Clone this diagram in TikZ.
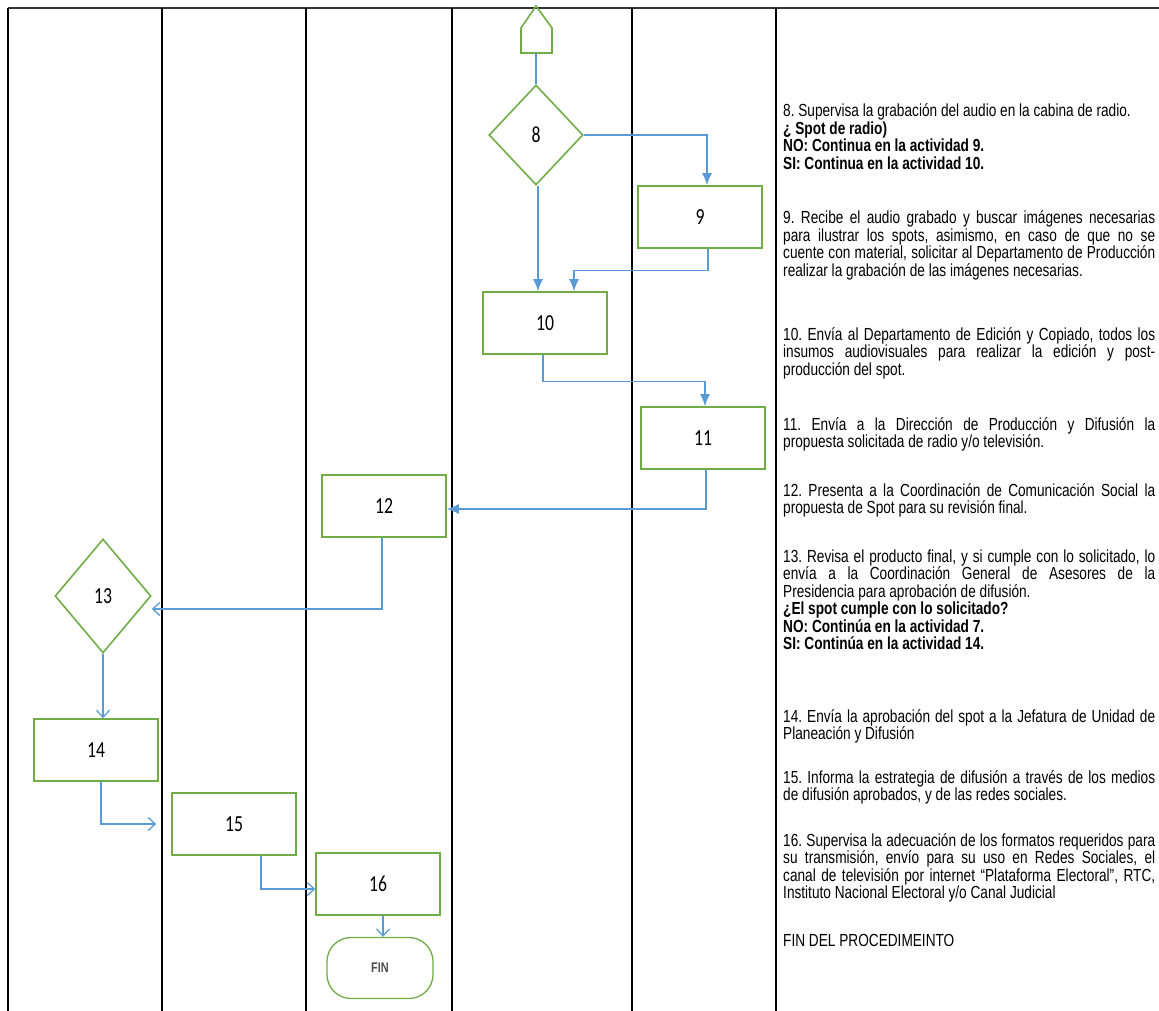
\documentclass[tikz,border=0pt]{standalone}
\usepackage{fontspec}
\setmainfont[FakeStretch=0.78]{Liberation Sans}
\newfontfamily\numfont[FakeStretch=0.77]{Carlito}
\usepackage{xcolor}
\definecolor{boxgreen}{RGB}{112,173,71}
\definecolor{flowblue}{RGB}{91,155,213}
\usetikzlibrary{arrows.meta,shapes.geometric}
\hyphenpenalty=10000
\frenchspacing

\begin{document}
\begin{tikzpicture}[x=1pt,y=-1pt,
    lane/.style={line width=1.6pt},
    actbox/.style={draw=boxgreen, line width=1.6pt, minimum width=124pt, minimum height=62pt, font=\numfont\fontsize{23}{23}\selectfont},
    decbox/.style={draw=boxgreen, line width=1.6pt, diamond, inner sep=0pt, font=\numfont\fontsize{23}{23}\selectfont},
    flow/.style={draw=flowblue, line width=1.3pt},
    fillarrow/.style={flow, -{Latex[length=12pt,width=10pt]}},
    openarrow/.style={flow, -{Straight Barb[length=7pt,width=13pt]}},
    desc/.style={anchor=base west, text width=372pt, align=justify, inner sep=0pt, font=\fontsize{17.5}{17.5}\selectfont}]
            \useasboundingbox (0,0) rectangle (1159,1011);

            % Lanes
            \draw[line width=2.5pt, black!80] (8,8) -- (1159,8);
            \foreach \lx in {8,162,306,452,632,776}
                \draw[lane] (\lx,8) -- (\lx,1011);

            % Off-page connector
            \draw[draw=boxgreen, line width=1.6pt] (521,53) -- (521,28) -- (536,6) -- (552,28) -- (552,53) -- cycle;
            \coordinate (conn) at (536,53);

            % Activities
            \node[decbox, minimum width=94pt, minimum height=100pt] (d8) at (536,135) {8};
            \node[actbox] (n9) at (700,217) {9};
            \node[actbox] (n10) at (545,323) {10};
            \node[actbox] (n11) at (703,438) {11};
            \node[actbox] (n12) at (384,506) {12};
            \node[decbox, minimum width=96pt, minimum height=114pt] (d13) at (103,596) {13};
            \node[actbox] (n14) at (96,750) {14};
            \node[actbox] (n15) at (234,824) {15};
            \node[actbox] (n16) at (378,884) {16};
            \node[draw=boxgreen, line width=1.3pt, rounded corners=24pt, minimum width=106pt, minimum height=61pt, font=\bfseries\fontsize{14}{14}\selectfont, text=black!70] (fin) at (380,968) {\raisebox{-4pt}{FIN}};

            % Connectors
            \draw[flow] (conn) -- (d8.north);
            \draw[fillarrow] (d8.east) -| ([xshift=7pt]n9.north);
            \draw[fillarrow] ([xshift=2pt]d8.south) -- ([xshift=2pt]d8.south |- n10.north);
            \draw[fillarrow] ([xshift=8pt]n9.south) -- ++(0,22) -| ([xshift=29pt]n10.north);
            \draw[fillarrow] ([xshift=-2pt]n10.south) -- ++(0,27) -| ([xshift=2pt]n11.north);
            \draw[fillarrow] ([xshift=3pt]n11.south) |- ([yshift=-3pt]n12.east);
            \draw[openarrow] ([xshift=-2pt]n12.south) |- ([yshift=-13pt]d13.east);
            \draw[openarrow] (d13.south) -- (d13.south |- n14.north);
            \draw[openarrow] ([xshift=5pt]n14.south) |- ([xshift=-15pt]n15.west);
            \draw[openarrow] ([xshift=27pt]n15.south) |- ([yshift=-5pt]n16.west);
            \draw[openarrow] ([xshift=5pt]n16.south) -- ([xshift=5pt]n16.south |- fin.north);

            % Descriptions
            \node[desc] (t8) at (783,117) {8. Supervisa la grabación del audio en la cabina de radio.\\
                \textbf{¿ Spot de radio)}\\
                \textbf{NO: Continua en la actividad 9.}\\
                \textbf{SI: Continua en la actividad 10.}};
            \node[desc] (t9) at (783,224) {9. Recibe el audio grabado y buscar imágenes necesarias\linebreak
                para ilustrar los spots, asimismo, en caso de que no se\linebreak
                cuente con material, solicitar al Departamento de Producción\linebreak
                realizar la grabación de las imágenes necesarias.};
            \node[desc] (t10) at (783,340) {10. Envía al Departamento de Edición y Copiado, todos los\linebreak
                insumos audiovisuales para realizar la edición y post-\linebreak
                producción del spot.};
            \node[desc] (t11) at (783,430) {11. Envía a la Dirección de Producción y Difusión la\linebreak
                propuesta solicitada de radio y/o televisión.};
            \node[desc] (t12) at (783,496) {12. Presenta a la Coordinación de Comunicación Social la\linebreak
                propuesta de Spot para su revisión final.};
            \node[desc] (t13) at (783,562) {13. Revisa el producto final, y si cumple con lo solicitado, lo\linebreak
                envía a la Coordinación General de Asesores de la\linebreak
                Presidencia para aprobación de difusión.\\
                \textbf{¿El spot cumple con lo solicitado?}\\
                \textbf{NO: Continúa en la actividad 7.}\\
                \textbf{SI: Continúa en la actividad 14.}};
            \node[desc] (t14) at (783,722) {14. Envía la aprobación del spot a la Jefatura de Unidad de\linebreak
                Planeación y Difusión};
            \node[desc] (t15) at (783,783) {15. Informa la estrategia de difusión a través de los medios\linebreak
                de difusión aprobados, y de las redes sociales.};
            \node[desc] (t16) at (783,846) {16. Supervisa la adecuación de los formatos requeridos para\linebreak
                su transmisión, envío para su uso en Redes Sociales, el\linebreak
                canal de televisión por internet “Plataforma Electoral”, RTC,\linebreak
                Instituto Nacional Electoral y/o Canal Judicial};
            \node[desc] (tfin) at (783,946) {FIN DEL PROCEDIMEINTO};
        \end{tikzpicture}
\end{document}
